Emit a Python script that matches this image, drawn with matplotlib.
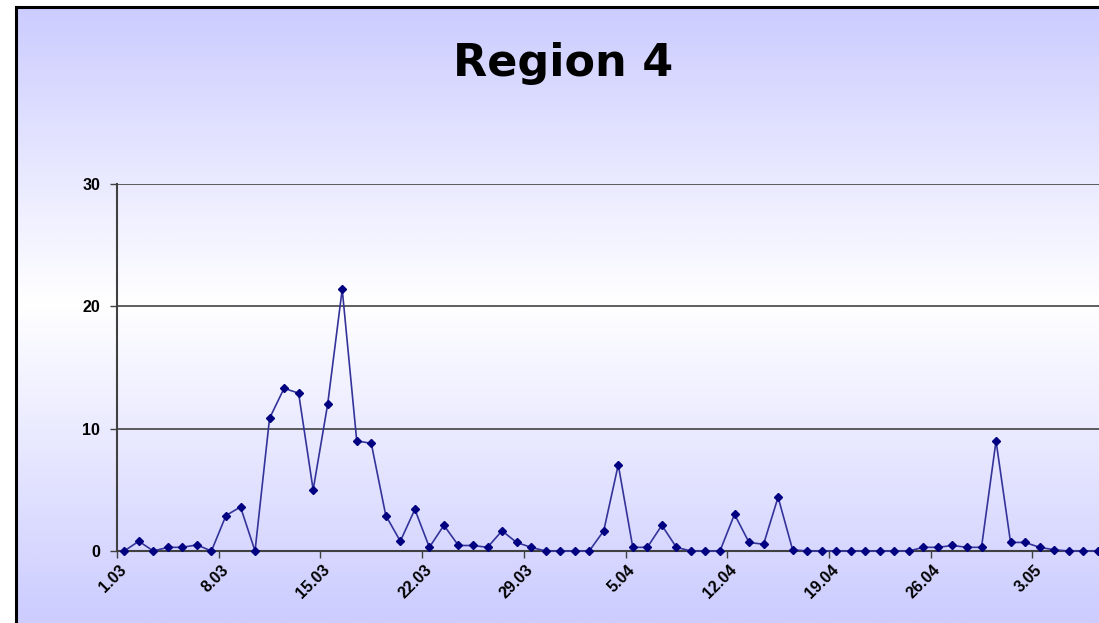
import numpy as np
import matplotlib
matplotlib.use("Agg")
import matplotlib.pyplot as plt
from matplotlib import font_manager
from matplotlib.colors import LinearSegmentedColormap

# daily values, 1 March .. 7 May
dates = ["%d.03" % d for d in range(1, 32)] + ["%d.04" % d for d in range(1, 31)] + ["%d.05" % d for d in range(1, 8)]
values = [0, 0.8, 0, 0.3, 0.3, 0.5, 0, 2.9, 3.6, 0,
          10.85, 13.3, 12.9, 5.0, 12.0, 21.4, 9.0, 8.8, 2.9, 0.8,
          3.4, 0.3, 2.1, 0.45, 0.45, 0.3, 1.65, 0.7, 0.3, 0,
          0, 0, 0, 1.65, 7.05, 0.3, 0.3, 2.1, 0.3, 0,
          0, 0, 3.0, 0.7, 0.55, 4.4, 0.1, 0, 0, 0,
          0, 0, 0, 0, 0, 0.3, 0.3, 0.45, 0.3, 0.3,
          9.0, 0.7, 0.7, 0.3, 0.1, 0, 0, 0]
yticks = [0, 10, 20, 30]
title = "Region 4"

# pick the regular-width Liberation Sans Bold file (not the Narrow one)
tick_font = None
for f in font_manager.fontManager.ttflist:
    if f.fname.endswith("LiberationSans-Bold.ttf"):
        tick_font = font_manager.FontProperties(fname=f.fname, size=11.5)
        break
if tick_font is None:
    tick_font = font_manager.FontProperties(family="DejaVu Sans", weight="bold", size=10.5)

W, H = 1099, 623
fig = plt.figure(figsize=(W / 100, H / 100), dpi=100)
fig.patch.set_facecolor("white")

# gradient background inside black frame
fx, fy = 16, 7
bg = fig.add_axes([fx / W, 0, 1 - fx / W, (H - fy) / H])
bg.set_zorder(-5)
cmap = LinearSegmentedColormap.from_list("bg", [(0, "#ccccff"), (0.48, "#ffffff"), (1, "#ccccff")])
grad = np.linspace(0, 1, 400).reshape(-1, 1)
bg.imshow(grad, aspect="auto", cmap=cmap, extent=[0, 1, 0, 1], origin="upper")
bg.set_xlim(0, 1)
bg.set_ylim(0, 1)
bg.set_xticks([])
bg.set_yticks([])
for s in ["right", "bottom"]:
    bg.spines[s].set_visible(False)
for s in ["left", "top"]:
    bg.spines[s].set_linewidth(2.2)
    bg.spines[s].set_color("black")

fig.text(563 / W, 1 - 76 / H, title, ha="center", va="baseline",
         fontsize=32, fontweight="bold", family="DejaVu Sans")

x0, x1 = 117, 1105
yb, yt = 551, 184
ax = fig.add_axes([x0 / W, 1 - yb / H, (x1 - x0) / W, (yb - yt) / H])
ax.patch.set_alpha(0)
n = len(values)
xs = np.arange(n)
ax.plot(xs, values, color="#33339a", lw=1.2, marker="D", ms=4.5,
        mfc="#000080", mec="#000080", clip_on=False, zorder=3)
ax.set_xlim(-0.5, n - 0.5)
ax.set_ylim(0, 30)

ax.set_yticks(yticks)
ax.yaxis.grid(True, color="#333333", lw=1.1)
ax.set_axisbelow(True)
ax.tick_params(axis="y", length=5, width=1, color="#404040", pad=7)
for lab in ax.get_yticklabels():
    lab.set_fontproperties(tick_font)

ax.set_xticks(np.arange(0, n, 7) - 0.5)
ax.set_xticklabels([])
ax.tick_params(axis="x", which="major", length=5, width=1, color="#404040")
ax.set_xticks(np.arange(0, n, 7), minor=True)
ax.set_xticklabels([dates[i] for i in range(0, n, 7)], minor=True, rotation=45,
                   ha="right", va="center", rotation_mode="anchor",
                   fontproperties=tick_font)
ax.tick_params(axis="x", which="minor", length=0, pad=12)

for s in ["top", "right"]:
    ax.spines[s].set_visible(False)
for s in ["left", "bottom"]:
    ax.spines[s].set_color("#404040")
    ax.spines[s].set_linewidth(1.5)

fig.savefig("out.png", dpi=100)
